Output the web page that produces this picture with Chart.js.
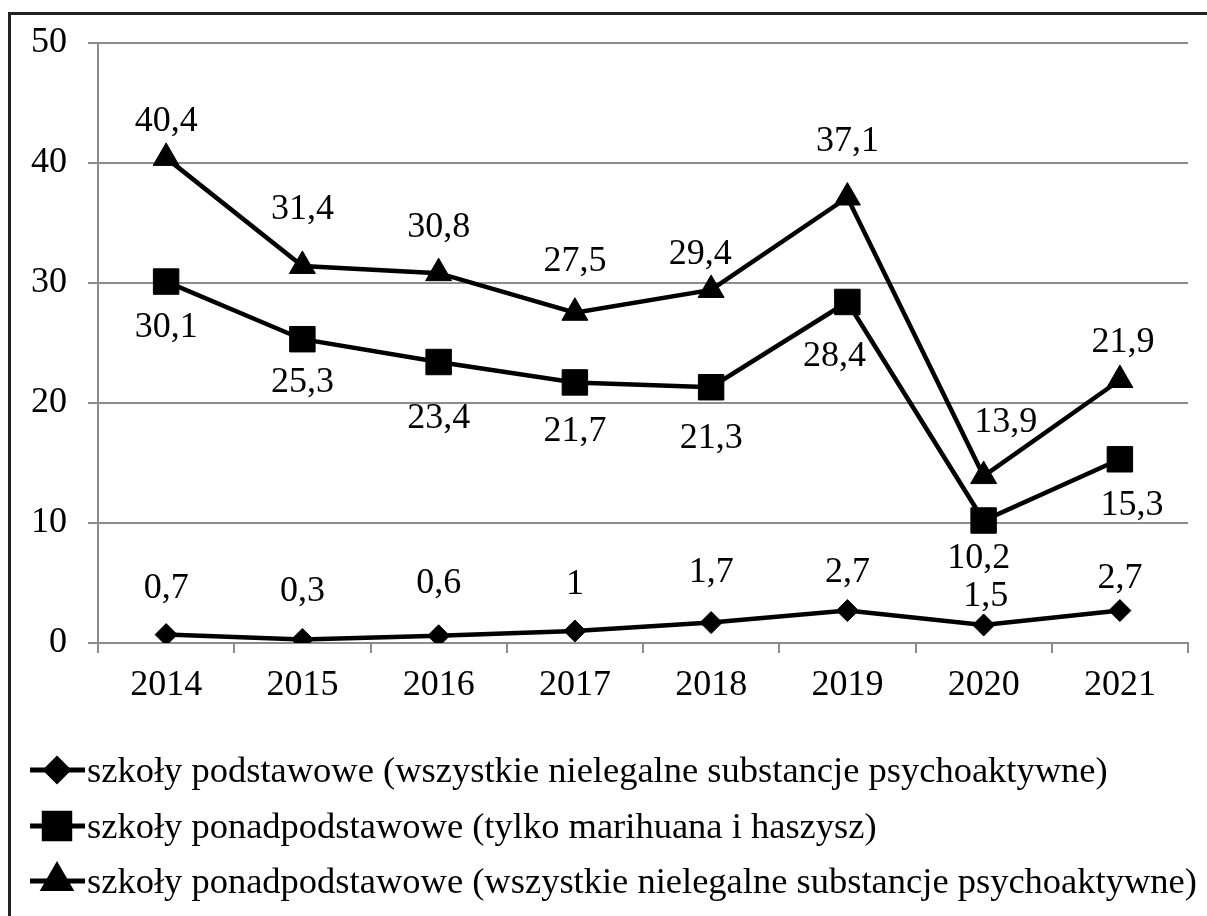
<!DOCTYPE html>
<html>
<head>
<meta charset="utf-8">
<script src="https://cdn.jsdelivr.net/npm/chart.js@4.4.1/dist/chart.umd.min.js"></script>
<style>
  body { margin: 0; background: #fff; }
  #wrap { position: absolute; left: 0; top: 0; width: 1207px; height: 916px; }
  #frame { position: absolute; left: 8px; top: 12px; right: 0; bottom: 0; border-top: 3px solid #222; border-left: 3px solid #222; pointer-events: none; }
</style>
</head>
<body>
<div id="wrap">
  <canvas id="chart" width="1207" height="916"></canvas>
  <div id="frame"></div>
</div>
<script>
const years = ['2014', '2015', '2016', '2017', '2018', '2019', '2020', '2021'];
const podstawowe = [0.7, 0.3, 0.6, 1, 1.7, 2.7, 1.5, 2.7];
const ponadMarihuana = [30.1, 25.3, 23.4, 21.7, 21.3, 28.4, 10.2, 15.3];
const ponadWszystkie = [40.4, 31.4, 30.8, 27.5, 29.4, 37.1, 13.9, 21.9];
const seriesNames = [
    'szkoły podstawowe (wszystkie nielegalne substancje psychoaktywne)',
    'szkoły ponadpodstawowe (tylko marihuana i haszysz)',
    'szkoły ponadpodstawowe (wszystkie nielegalne substancje psychoaktywne)'
];

// label placement relative to the point [dx, dy] (Excel labels were nudged by hand)
const labelShift = [
    [[0,-46],[0,-48],[0,-52],[0,-46],[0,-50],[0,-38],[2,-28],[0,-32]],
    [[0,46],[0,43],[0,57],[0,49],[0,51],[-13,55],[-5,38],[12,46]],
    [[0,-36],[0,-56],[0,-46],[0,-51],[-11,-35],[0,-56],[22,-54],[3,-37]]
];

const FONT = '"Liberation Serif", "Times New Roman", serif';

const pointLabels = {
    id: 'pointLabels',
    afterDatasetsDraw(chart) {
        const ctx = chart.ctx;
        ctx.save();
        ctx.font = '36px ' + FONT;
        ctx.fillStyle = '#000';
        ctx.textAlign = 'center';
        ctx.textBaseline = 'middle';
        chart.data.datasets.forEach((ds, i) => {
            chart.getDatasetMeta(i).data.forEach((pt, j) => {
                const s = labelShift[i][j];
                ctx.fillText(String(ds.data[j]).replace('.', ','), pt.x + s[0], pt.y + s[1]);
            });
        });
        ctx.restore();
    }
};

const lineLegend = {
    id: 'lineLegend',
    afterDraw(chart) {
        const ctx = chart.ctx;
        const rowY = [770, 826, 881];
        ctx.save();
        chart.data.datasets.forEach((ds, i) => {
            const y = rowY[i];
            ctx.strokeStyle = '#000';
            ctx.lineWidth = 5;
            ctx.beginPath();
            ctx.moveTo(30, y);
            ctx.lineTo(85, y);
            ctx.stroke();
            ctx.fillStyle = '#000';
            Chart.helpers.drawPoint(ctx, {
                pointStyle: ds.pointStyle,
                radius: ds.pointRadius,
                borderWidth: 1,
                rotation: 0
            }, 57, y);
            ctx.font = '36.5px ' + FONT;
            ctx.textAlign = 'left';
            ctx.textBaseline = 'middle';
            ctx.fillText(seriesNames[i], 87, y + 2);
        });
        ctx.restore();
    }
};

function makeSet(i, data, style, radius) {
    return {
        label: seriesNames[i],
        data: data,
        borderColor: '#000',
        backgroundColor: '#000',
        borderWidth: 4.5,
        pointStyle: style,
        pointRadius: radius,
        pointBorderWidth: 1,
        pointBackgroundColor: '#000',
        pointBorderColor: '#000',
        tension: 0
    };
}

new Chart(document.getElementById('chart'), {
    type: 'line',
    data: {
        labels: years,
        datasets: [
            makeSet(0, podstawowe, 'rectRot', 11),
            makeSet(1, ponadMarihuana, 'rect', 18),
            makeSet(2, ponadWszystkie, 'triangle', 15)
        ]
    },
    options: {
        responsive: false,
        animation: false,
        layout: { padding: { left: 0, right: 13, top: 40, bottom: 193 } },
        plugins: {
            legend: { display: false },
            tooltip: { enabled: false }
        },
        scales: {
            x: {
                offset: true,
                afterFit: s => { s.height = 80; },
                grid: { offset: true, drawOnChartArea: false, drawTicks: true, tickLength: 10, color: '#8c8c8c', lineWidth: 2 },
                border: { color: '#8c8c8c', width: 2 },
                ticks: { color: '#000', font: { family: FONT, size: 36 }, padding: 11, maxRotation: 0 }
            },
            y: {
                min: 0,
                max: 50,
                afterFit: s => { s.width = 98; },
                grid: { color: '#8c8c8c', lineWidth: 2, tickLength: 10 },
                border: { color: '#8c8c8c', width: 2 },
                ticks: { stepSize: 10, color: '#000', font: { family: FONT, size: 36 }, padding: 21 }
            }
        }
    },
    plugins: [pointLabels, lineLegend]
});
</script>
</body>
</html>
